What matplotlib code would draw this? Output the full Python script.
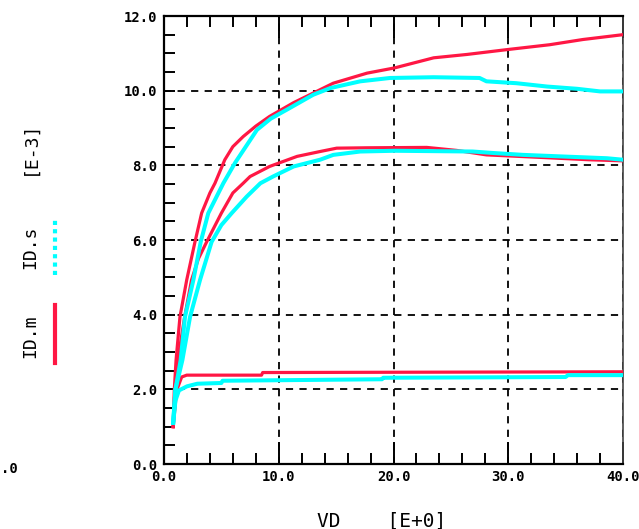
import matplotlib
matplotlib.use("Agg")
import matplotlib.pyplot as plt
from matplotlib.lines import Line2D
from matplotlib.ticker import MultipleLocator, FormatStrFormatter

# Drain current ID [mA] vs drain voltage VD [V], measured (ID.m) and simulated (ID.s)
vd_m_high = [0.8, 0.9, 1.05, 1.39, 1.98, 2.7, 3.28, 4.0, 4.44, 5.3, 6.0, 6.9, 8.0, 9.2, 11.3,
             13.3, 14.75, 17.7, 20.1, 23.5, 26.4, 29.9, 33.6, 36.5, 40.0]
id_m_high = [1.0, 2.0, 2.78, 3.94, 4.93, 5.95, 6.72, 7.26, 7.52, 8.15, 8.5, 8.77, 9.05, 9.31, 9.68,
             9.98, 10.2, 10.47, 10.61, 10.88, 10.97, 11.1, 11.23, 11.37, 11.5]

vd_s_high = [0.8, 1.0, 1.45, 1.83, 2.56, 3.2, 3.86, 5.17, 6.2, 8.1, 9.3, 10.7, 13.0, 14.5, 17.1,
             19.7, 23.5, 27.5, 28.1, 30.7, 33.4, 36.0, 38.0, 40.0]
id_s_high = [1.1, 2.0, 2.78, 3.94, 4.93, 5.95, 6.72, 7.52, 8.07, 8.95, 9.25, 9.49, 9.89, 10.07, 10.25,
             10.34, 10.36, 10.34, 10.25, 10.2, 10.11, 10.05, 9.98, 9.98]

vd_m_mid = [0.8, 0.95, 1.2, 1.8, 2.4, 3.0, 3.72, 5.0, 6.0, 6.9, 7.5, 9.2, 11.6, 13.6, 15.05,
            17.7, 22.9, 25.5, 28.1, 33.0, 37.0, 40.0]
id_m_mid = [1.0, 2.0, 2.78, 3.94, 4.93, 5.5, 5.95, 6.72, 7.26, 7.52, 7.7, 7.97, 8.24, 8.37, 8.46,
            8.47, 8.48, 8.4, 8.28, 8.21, 8.15, 8.12]

vd_s_mid = [0.8, 1.0, 1.6, 2.27, 3.14, 4.15, 5.0, 5.9, 7.2, 8.4, 9.5, 11.3, 13.6, 14.75, 17.1,
            20.1, 26.9, 28.7, 31.3, 34.5, 38.6, 40.0]
id_s_mid = [1.1, 2.0, 2.78, 3.94, 4.93, 5.95, 6.4, 6.72, 7.16, 7.52, 7.7, 7.97, 8.15, 8.28, 8.37,
            8.39, 8.37, 8.33, 8.28, 8.24, 8.19, 8.15]

vd_m_low = [0.8, 1.1, 1.54, 1.98, 8.5, 8.6, 40.0]
id_m_low = [1.0, 1.97, 2.33, 2.38, 2.38, 2.45, 2.47]

vd_s_low = [0.8, 1.0, 1.3, 2.0, 2.9, 5.0, 5.1, 19.0, 19.1, 35.0, 35.2, 40.0]
id_s_low = [1.1, 1.7, 1.97, 2.08, 2.15, 2.17, 2.23, 2.27, 2.31, 2.33, 2.38, 2.38]

x_ticks = [0.0, 10.0, 20.0, 30.0, 40.0]
y_ticks = [0.0, 2.0, 4.0, 6.0, 8.0, 10.0, 12.0]

RED = "#ff1744"
CYAN = "#00ffff"
MONO = "DejaVu Sans Mono"

W, H = 639, 529
fig = plt.figure(figsize=(W / 100, H / 100), dpi=100)
ax = fig.add_axes([164 / W, 1 - 464 / H, (623 - 164) / W, (464 - 16) / H])

for vd, idv in [(vd_m_low, id_m_low), (vd_m_mid, id_m_mid), (vd_m_high, id_m_high)]:
    ax.plot(vd, idv, color=RED, lw=2.3, zorder=3)
for vd, idv in [(vd_s_low, id_s_low), (vd_s_mid, id_s_mid), (vd_s_high, id_s_high)]:
    ax.plot(vd, idv, color=CYAN, lw=2.9, zorder=4)

ax.set_xlim(0, 40)
ax.set_ylim(0, 12)
ax.set_xticks(x_ticks)
ax.set_yticks(y_ticks)
ax.xaxis.set_minor_locator(MultipleLocator(2))
ax.yaxis.set_minor_locator(MultipleLocator(0.5))
ax.xaxis.set_major_formatter(FormatStrFormatter("%.1f"))
ax.yaxis.set_major_formatter(FormatStrFormatter("%.1f"))

ax.grid(True, which="major", color="black", linestyle=(0, (4, 3.5)), lw=1.3, zorder=1)

ax.tick_params(axis="x", which="major", direction="in", length=16, width=1.4,
               top=True, bottom=True, pad=4)
ax.tick_params(axis="x", which="minor", direction="in", length=8, width=1.4,
               top=True, bottom=True)
ax.tick_params(axis="y", which="both", direction="in", length=8, width=1.4,
               left=True, right=False, pad=5)
for lab in ax.get_xticklabels() + ax.get_yticklabels():
    lab.set_fontfamily(MONO)
    lab.set_fontweight("bold")
    lab.set_fontsize(10)

for side in ["left", "bottom", "top"]:
    ax.spines[side].set_linewidth(1.6)
    ax.spines[side].set_color("black")
ax.spines["right"].set_linewidth(1.2)
ax.spines["right"].set_color("#444444")

# x-axis title
fig.text(382 / W, 1 - 521 / H, "VD    [E+0]", family=MONO, fontsize=14,
         ha="center", va="center")

# vertical legend / unit block on the left
fig.text(30 / W, 1 - 336 / H, "ID.m", family=MONO, fontsize=13, rotation=90,
         ha="center", va="center")
fig.text(30 / W, 1 - 247 / H, "ID.s", family=MONO, fontsize=13, rotation=90,
         ha="center", va="center")
fig.text(30 / W, 1 - 148 / H, "[E-3]", family=MONO, fontsize=13, rotation=90,
         ha="center", va="center")
fig.add_artist(Line2D([55 / W, 55 / W], [1 - 363 / H, 1 - 305 / H],
                      transform=fig.transFigure, color=RED, lw=3))
fig.add_artist(Line2D([55 / W, 55 / W], [1 - 275 / H, 1 - 218 / H],
                      transform=fig.transFigure, color=CYAN, lw=3,
                      linestyle=(0, (1, 1))))

# stray label fragment at the lower-left edge
fig.text(1 / W, 1 - 469 / H, ".0", family=MONO, fontweight="bold", fontsize=10,
         ha="left", va="center")

fig.savefig("out.png", dpi=100)
